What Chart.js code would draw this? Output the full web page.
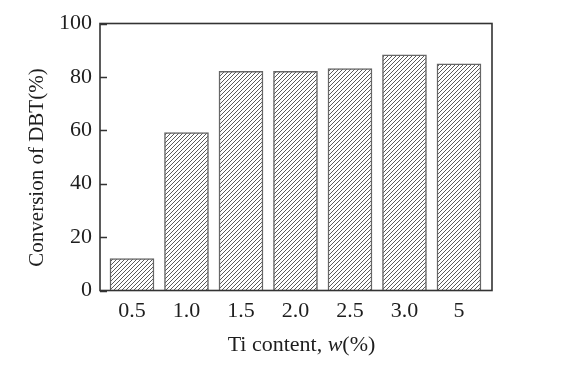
<!DOCTYPE html>
<html>
<head>
<meta charset="utf-8">
<script src="https://cdn.jsdelivr.net/npm/chart.js@4/dist/chart.umd.min.js"></script>
<style>
html,body{margin:0;padding:0;background:#fff;}
canvas{display:block;}
</style>
</head>
<body>
<canvas id="c" width="563" height="365"></canvas>
<script>
const categories = ['0.5', '1.0', '1.5', '2.0', '2.5', '3.0', '5'];
const conversion = [12.0, 59.1, 82.1, 82.1, 83.1, 88.3, 84.9];
const yTicks = [0, 20, 40, 60, 80, 100];
const yTitle = 'Conversion of DBT(%)';
const xTitleParts = [['Ti content, ', 'normal'], ['w', 'italic'], ['(%)', 'normal']];

const FONT = '"Liberation Serif", "Times New Roman", serif';
const TEXT = '#1e1e1e';

function makePattern() {
  const p = document.createElement('canvas');
  p.width = 4; p.height = 4;
  const g = p.getContext('2d');
  g.fillStyle = '#ffffff';
  g.fillRect(0, 0, 4, 4);
  g.strokeStyle = '#5a5a5a';
  g.lineWidth = 1;
  g.beginPath();
  g.moveTo(0, 4); g.lineTo(4, 0);
  g.moveTo(-1, 1); g.lineTo(1, -1);
  g.moveTo(3, 5); g.lineTo(5, 3);
  g.stroke();
  return document.getElementById('c').getContext('2d').createPattern(p, 'repeat');
}

const framePlugin = {
  id: 'frame',
  afterDraw(chart) {
    const ctx = chart.ctx;
    const a = chart.chartArea;
    const y = chart.scales.y;
    ctx.save();
    ctx.strokeStyle = '#333';
    ctx.lineWidth = 1.6;
    ctx.strokeRect(a.left, a.top, a.right - a.left, a.bottom - a.top);
    ctx.lineWidth = 1.3;
    ctx.beginPath();
    y.ticks.forEach(t => {
      const py = Math.round(y.getPixelForValue(t.value)) + 0.5;
      ctx.moveTo(a.left, py);
      ctx.lineTo(a.left + 7, py);
    });
    ctx.stroke();

    // y title
    ctx.fillStyle = TEXT;
    ctx.font = '21px ' + FONT;
    ctx.textAlign = 'center';
    ctx.textBaseline = 'alphabetic';
    ctx.save();
    ctx.translate(42.5, 167.5);
    ctx.rotate(-Math.PI / 2);
    ctx.fillText(yTitle, 0, 0);
    ctx.restore();

    // x title with italic part
    ctx.textAlign = 'left';
    let total = 0;
    const widths = xTitleParts.map(([s, st]) => {
      ctx.font = (st === 'italic' ? 'italic ' : '') + '22px ' + FONT;
      const w = ctx.measureText(s).width;
      total += w;
      return w;
    });
    let x = 301.5 - total / 2;
    xTitleParts.forEach(([s, st], i) => {
      ctx.font = (st === 'italic' ? 'italic ' : '') + '22px ' + FONT;
      ctx.fillText(s, x, 351);
      x += widths[i];
    });
    ctx.restore();
  }
};

new Chart(document.getElementById('c'), {
  type: 'bar',
  data: {
    datasets: [{
      data: categories.map((c, i) => ({ x: i, y: conversion[i] })),
      backgroundColor: makePattern(),
      borderColor: '#666',
      borderWidth: 1.5,
      borderSkipped: 'bottom',
      barThickness: 44
    }]
  },
  options: {
    responsive: false,
    animation: false,
    devicePixelRatio: 1,
    layout: { padding: { top: 23.5, right: 71, left: 0, bottom: 0 } },
    plugins: { legend: { display: false }, tooltip: { enabled: false } },
    scales: {
      x: {
        type: 'linear',
        offset: false,
        min: -0.587,
        max: 6.606,
        afterBuildTicks: s => { s.ticks = categories.map((c, i) => ({ value: i })); },
        ticks: {
          callback: v => categories[v] ?? '',
          font: { family: FONT, size: 22 },
          color: TEXT,
          padding: 8,
          maxRotation: 0,
          autoSkip: false
        },
        grid: { display: false, drawTicks: false, offset: false },
        border: { display: false },
        afterFit: s => { s.height = 74.5; }
      },
      y: {
        min: 0,
        max: 100,
        afterBuildTicks: s => { s.ticks = yTicks.map(v => ({ value: v })); },
        ticks: {
          font: { family: FONT, size: 22 },
          color: TEXT,
          padding: 8
        },
        grid: { display: false, drawTicks: false },
        border: { display: false },
        afterFit: s => { s.width = 100; }
      }
    }
  },
  plugins: [framePlugin]
});
</script>
</body>
</html>
